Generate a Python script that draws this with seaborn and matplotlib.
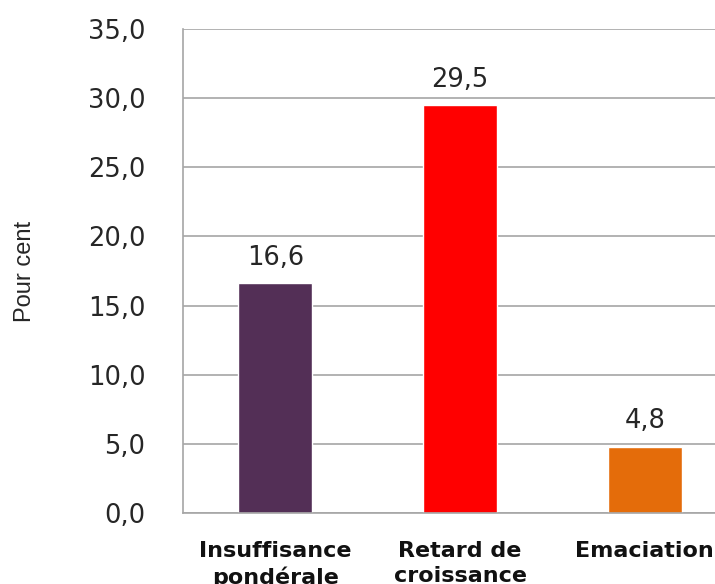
import pandas as pd
import seaborn as sns
import matplotlib.pyplot as plt

categories = ['Insuffisance\npondérale', 'Retard de\ncroissance', 'Emaciation']
values = [16.6, 29.5, 4.8]
bar_colors = ['#532F56', '#FF0000', '#E46C0A']
y_ticks = [0, 5, 10, 15, 20, 25, 30, 35]

data = pd.DataFrame({'categorie': categories, 'valeur': values})

sns.set_style('white')
fig = plt.figure(figsize=(7.15, 5.84), dpi=100)
ax = fig.add_axes([0.256, 0.1216, 0.775, 0.8287])

sns.barplot(data=data, x='categorie', y='valeur', hue='categorie',
            palette=bar_colors, width=0.4, legend=False, ax=ax, saturation=1)

ax.set_ylim(0, 35)
ax.set_xlim(-0.5, 2.5)
ax.set_yticks(y_ticks)
ax.set_yticklabels([f'{v:.1f}'.replace('.', ',') for v in y_ticks], fontsize=18.5, color='#262626')
ax.tick_params(axis='y', length=0, pad=27)
ax.tick_params(axis='x', length=0, pad=20)
for lbl in ax.get_xticklabels():
    lbl.set_fontweight('bold')
    lbl.set_fontsize(16)
    lbl.set_linespacing(1.3)
    lbl.set_verticalalignment('top')
    lbl.set_color('#111111')

ax.yaxis.grid(True, color='#A6A6A6', linewidth=1.2)
ax.set_axisbelow(True)
for side in ['top', 'right']:
    ax.spines[side].set_visible(False)
for side in ['left', 'bottom']:
    ax.spines[side].set_color('#A6A6A6')
    ax.spines[side].set_linewidth(1.2)

for i, v in enumerate(values):
    ax.annotate(f'{v:.1f}'.replace('.', ','), (i, v), xytext=(0, 9),
                textcoords='offset points', ha='center', va='bottom',
                fontsize=18.5, color='#262626')

ax.set_xlabel('')
ax.set_ylabel('')
fig.text(0.035, 0.536, 'Pour cent', rotation=90, ha='center', va='center',
         fontsize=17, family=['Liberation Sans Narrow', 'Liberation Sans'], color='#262626')

fig.savefig('out.png', dpi=100)
